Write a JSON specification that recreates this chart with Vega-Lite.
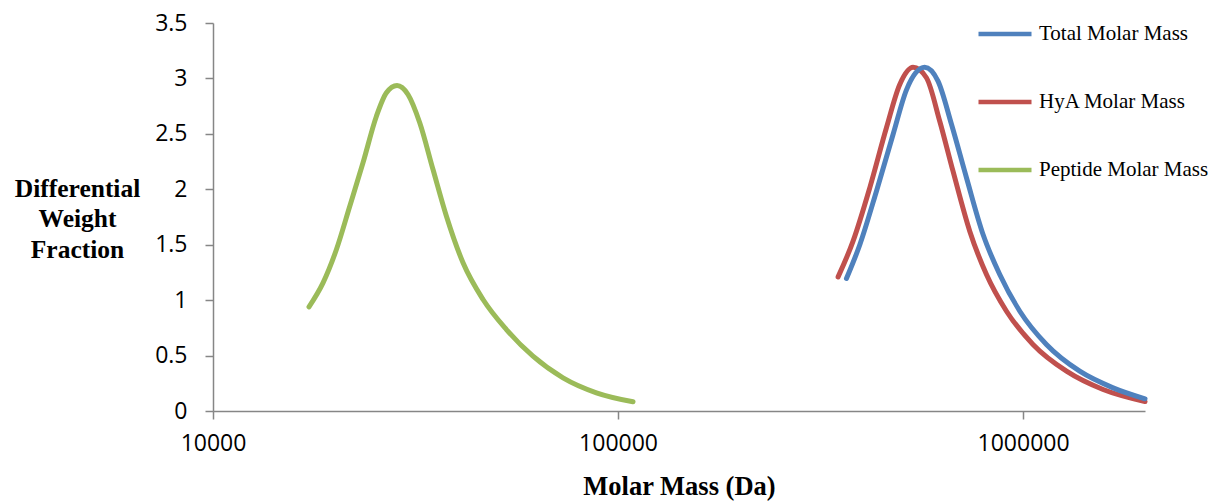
{
  "$schema": "https://vega.github.io/schema/vega-lite/v6.json",
  "width": 932,
  "height": 388,
  "autosize": "none",
  "padding": {"left": 213, "top": 23, "right": 70, "bottom": 90},
  "background": "white",
  "config": {"view": {"stroke": null}},
  "data": {"values": [
    {"s": "Peptide Molar Mass", "m": 17260, "w": 0.94},
    {"s": "Peptide Molar Mass", "m": 18690, "w": 1.156},
    {"s": "Peptide Molar Mass", "m": 20170, "w": 1.457},
    {"s": "Peptide Molar Mass", "m": 21760, "w": 1.847},
    {"s": "Peptide Molar Mass", "m": 23460, "w": 2.239},
    {"s": "Peptide Molar Mass", "m": 25320, "w": 2.659},
    {"s": "Peptide Molar Mass", "m": 26800, "w": 2.87},
    {"s": "Peptide Molar Mass", "m": 28470, "w": 2.936},
    {"s": "Peptide Molar Mass", "m": 30300, "w": 2.855},
    {"s": "Peptide Molar Mass", "m": 32390, "w": 2.6},
    {"s": "Peptide Molar Mass", "m": 34930, "w": 2.178},
    {"s": "Peptide Molar Mass", "m": 37700, "w": 1.757},
    {"s": "Peptide Molar Mass", "m": 41430, "w": 1.337},
    {"s": "Peptide Molar Mass", "m": 46420, "w": 1.006},
    {"s": "Peptide Molar Mass", "m": 53020, "w": 0.735},
    {"s": "Peptide Molar Mass", "m": 61660, "w": 0.494},
    {"s": "Peptide Molar Mass", "m": 73150, "w": 0.299},
    {"s": "Peptide Molar Mass", "m": 88440, "w": 0.164},
    {"s": "Peptide Molar Mass", "m": 108900, "w": 0.083},
    {"s": "HyA Molar Mass", "m": 349400, "w": 1.21},
    {"s": "HyA Molar Mass", "m": 380400, "w": 1.532},
    {"s": "HyA Molar Mass", "m": 418300, "w": 2.013},
    {"s": "HyA Molar Mass", "m": 459900, "w": 2.555},
    {"s": "HyA Molar Mass", "m": 496100, "w": 2.945},
    {"s": "HyA Molar Mass", "m": 535000, "w": 3.1},
    {"s": "HyA Molar Mass", "m": 577300, "w": 3.006},
    {"s": "HyA Molar Mass", "m": 622700, "w": 2.614},
    {"s": "HyA Molar Mass", "m": 671500, "w": 2.163},
    {"s": "HyA Molar Mass", "m": 738500, "w": 1.622},
    {"s": "HyA Molar Mass", "m": 812200, "w": 1.231},
    {"s": "HyA Molar Mass", "m": 910100, "w": 0.9},
    {"s": "HyA Molar Mass", "m": 1058000, "w": 0.6},
    {"s": "HyA Molar Mass", "m": 1280000, "w": 0.359},
    {"s": "HyA Molar Mass", "m": 1576000, "w": 0.194},
    {"s": "HyA Molar Mass", "m": 2000000, "w": 0.085},
    {"s": "Total Molar Mass", "m": 366400, "w": 1.195},
    {"s": "Total Molar Mass", "m": 395300, "w": 1.5},
    {"s": "Total Molar Mass", "m": 434500, "w": 1.983},
    {"s": "Total Molar Mass", "m": 477500, "w": 2.494},
    {"s": "Total Molar Mass", "m": 515400, "w": 2.897},
    {"s": "Total Molar Mass", "m": 571600, "w": 3.1},
    {"s": "Total Molar Mass", "m": 616600, "w": 2.975},
    {"s": "Total Molar Mass", "m": 665900, "w": 2.584},
    {"s": "Total Molar Mass", "m": 724900, "w": 2.104},
    {"s": "Total Molar Mass", "m": 796600, "w": 1.592},
    {"s": "Total Molar Mass", "m": 875900, "w": 1.231},
    {"s": "Total Molar Mass", "m": 981600, "w": 0.9},
    {"s": "Total Molar Mass", "m": 1142000, "w": 0.6},
    {"s": "Total Molar Mass", "m": 1380000, "w": 0.359},
    {"s": "Total Molar Mass", "m": 1668000, "w": 0.209},
    {"s": "Total Molar Mass", "m": 2000000, "w": 0.11}
  ]},
  "mark": {"type": "line", "strokeWidth": 5, "strokeCap": "round", "strokeJoin": "round", "interpolate": "monotone", "clip": false},
  "encoding": {
    "x": {
      "field": "m", "type": "quantitative",
      "scale": {"type": "log", "domain": [10000, 2000000], "nice": false},
      "axis": {
        "values": [10000, 100000, 1000000], "format": "d", "grid": false, "labelFlush": false, "labelOverlap": false,
        "domainColor": "#868686", "domainWidth": 1.5, "tickColor": "#868686", "tickWidth": 1.5, "tickSize": 8,
        "labelFont": "Open Sans", "labelFontSize": 23, "labelColor": "#000000", "labelPadding": 13,
        "title": "Molar Mass (Da)", "titleFont": "Liberation Serif", "titleFontWeight": "bold", "titleFontSize": 26.5,
        "titleColor": "#000000", "titleBaseline": "alphabetic", "titleY": 83.5, "titleX": 466, "titleAlign": "center"
      }
    },
    "y": {
      "field": "w", "type": "quantitative",
      "scale": {"domain": [0, 3.5], "nice": false},
      "axis": {
        "values": [0, 0.5, 1, 1.5, 2, 2.5, 3, 3.5], "format": "~g", "grid": false, "labelFlush": false, "labelOverlap": false,
        "domainColor": "#868686", "domainWidth": 1.5, "tickColor": "#868686", "tickWidth": 1.5, "tickSize": 8,
        "labelFont": "Open Sans", "labelFontSize": 23, "labelColor": "#000000", "labelPadding": 18,
        "title": ["Differential", "Weight", "Fraction"], "titleFont": "Liberation Serif", "titleFontWeight": "bold",
        "titleFontSize": 25.5, "titleColor": "#000000", "titleAngle": 0, "titleAlign": "center", "titleBaseline": "middle",
        "titleLineHeight": 30.5, "titleX": -136, "titleY": 165
      }
    },
    "color": {
      "field": "s", "type": "nominal",
      "scale": {"domain": ["Total Molar Mass", "HyA Molar Mass", "Peptide Molar Mass"], "range": ["#4F81BD", "#C0504D", "#9BBB59"]},
      "legend": {
        "title": null, "orient": "none", "legendX": 763, "legendY": -18, "padding": 0,
        "symbolType": "stroke", "symbolSize": 2809, "symbolStrokeWidth": 4.5,
        "labelFont": "Liberation Serif", "labelFontSize": 21, "labelColor": "#000000", "labelOffset": 5,
        "labelLimit": 400, "rowPadding": 29
      }
    }
  }
}
